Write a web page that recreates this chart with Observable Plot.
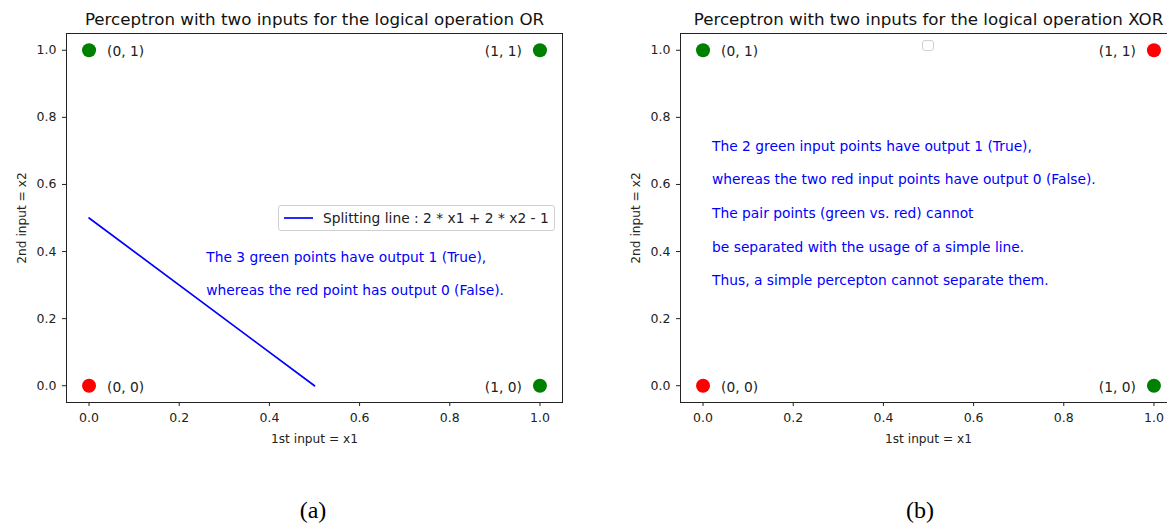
<!DOCTYPE html>
<html>
<head>
<meta charset="utf-8">
<script src="https://cdn.jsdelivr.net/npm/d3@7"></script>
<script src="https://cdn.jsdelivr.net/npm/@observablehq/plot@0.6"></script>
<style>
  html, body { margin: 0; padding: 0; background: #fff; }
  #wrap { position: relative; width: 1167px; height: 527px; overflow: hidden; background: #fff; font-family: "DejaVu Sans", sans-serif; }
  .panel { position: absolute; top: 0; }
  .caption { position: absolute; font-family: "Liberation Serif", "DejaVu Serif", serif; font-size: 24px; color: #000; transform: translateX(-50%); }
  .legend { position: absolute; box-sizing: border-box; border: 1px solid #d0d0d0; border-radius: 3px; background: rgba(255,255,255,0.85); font-family: "DejaVu Sans", sans-serif; font-size: 13.8px; color: #222; display: flex; align-items: center; }
</style>
</head>
<body>
<div id="wrap"></div>
<script>
// ---- data ----
const inputX1 = [0, 0, 1, 1];
const inputX2 = [0, 1, 0, 1];
const pointLabels = ["(0, 0)", "(0, 1)", "(1, 0)", "(1, 1)"];
const orColors = ["red", "green", "green", "green"];
const xorColors = ["red", "green", "green", "red"];
const splitX1 = [0, 0.5];
const splitX2 = [0.5, 0];
const tickValues = [0, 0.2, 0.4, 0.6, 0.8, 1.0];
const orTitle = "Perceptron with two inputs for the logical operation OR";
const xorTitle = "Perceptron with two inputs for the logical operation XOR";
const orNotes = ["The 3 green points have output 1 (True),", "whereas the red point has output 0 (False)."];
const orNotesX = 0.26;
const orNotesY = [0.37, 0.27];
const xorNotes = [
  "The 2 green input points have output 1 (True),",
  "whereas the two red input points have output 0 (False).",
  "The pair points (green vs. red) cannot",
  "be separated with the usage of a simple line.",
  "Thus, a simple percepton cannot separate them."
];
const xorNotesX = 0.02;
const xorNotesY = [0.7, 0.6, 0.5, 0.4, 0.3];
const legendLabel = "Splitting line : 2 * x1 + 2 * x2 - 1";

const FONT = "DejaVu Sans";
const TICK_FS = 12.5;
const LABEL_FS = 12.2;
const TEXT_FS = 13.8;
const TITLE_FS = 16.7;
const idx = d3.range(inputX1.length);

function panel({title, colors, extra, marginLeft}) {
  const leftIdx = idx.filter(i => inputX1[i] === 0);
  const rightIdx = idx.filter(i => inputX1[i] === 1);
  return Plot.plot({
    width: marginLeft + 496 + 20,
    height: 460,
    marginLeft,
    marginRight: 20,
    marginTop: 33,
    marginBottom: 58,
    style: {fontFamily: FONT, fontSize: TICK_FS + "px", color: "#222", background: "transparent", overflow: "visible"},
    x: {domain: [-0.05, 1.05]},
    y: {domain: [-0.05, 1.05]},
    color: {type: "identity"},
    marks: [
      Plot.axisX({ticks: tickValues, tickFormat: d3.format(".1f"), tickSize: 4, tickPadding: 7, fontSize: TICK_FS, label: null}),
      Plot.axisX({ticks: [], label: "1st input = x1", labelAnchor: "center", labelArrow: "none", labelOffset: 40, fontSize: LABEL_FS, tickSize: 0}),
      Plot.axisY({ticks: tickValues, tickFormat: d3.format(".1f"), tickSize: 4, tickPadding: 6, fontSize: TICK_FS, label: null}),
      Plot.axisY({ticks: [], label: "2nd input = x2", labelAnchor: "center", labelArrow: "none", labelOffset: 49, fontSize: LABEL_FS, tickSize: 0}),
      Plot.frame({stroke: "#222", strokeWidth: 1}),
      ...extra,
      Plot.dot(idx, {x: i => inputX1[i], y: i => inputX2[i], fill: i => colors[i], r: 7}),
      Plot.text(leftIdx, {x: i => inputX1[i], y: i => inputX2[i], text: i => pointLabels[i], textAnchor: "start", dx: 18, dy: 1.5, fill: "#222", fontSize: TEXT_FS}),
      Plot.text(rightIdx, {x: i => inputX1[i], y: i => inputX2[i], text: i => pointLabels[i], textAnchor: "end", dx: -18, dy: 1.5, fill: "#222", fontSize: TEXT_FS}),
      Plot.text([title], {frameAnchor: "top", dy: -14, lineAnchor: "middle", fontSize: TITLE_FS, fill: "#111"})
    ]
  });
}

const wrap = document.getElementById("wrap");

const orPlot = panel({
  title: orTitle, colors: orColors, marginLeft: 66,
  extra: [
    Plot.line(splitX1.map((v, i) => i), {x: i => splitX1[i], y: i => splitX2[i], stroke: "blue", strokeWidth: 1.7}),
    Plot.text(orNotes, {x: orNotesX, y: (d, i) => orNotesY[i], text: d => d, textAnchor: "start", lineAnchor: "bottom", fill: "blue", fontSize: TEXT_FS})
  ]
});
orPlot.classList.add("panel");
orPlot.style.left = "0px";
wrap.appendChild(orPlot);

const xorPlot = panel({
  title: xorTitle, colors: xorColors, marginLeft: 80,
  extra: [
    Plot.text(xorNotes, {x: xorNotesX, y: (d, i) => xorNotesY[i], text: d => d, textAnchor: "start", lineAnchor: "bottom", fill: "blue", fontSize: TEXT_FS})
  ]
});
xorPlot.classList.add("panel");
xorPlot.style.left = "600px";
wrap.appendChild(xorPlot);

// legend (a)
const leg = document.createElement("div");
leg.className = "legend";
Object.assign(leg.style, {left: "278px", top: "205px", width: "277px", height: "26px"});
leg.innerHTML = `<svg width="44" height="10" style="flex:none"><line x1="5" x2="34" y1="5" y2="5" stroke="blue" stroke-width="1.7"/></svg><span>${legendLabel}</span>`;
wrap.appendChild(leg);

// empty legend box (b)
const leg2 = document.createElement("div");
leg2.className = "legend";
Object.assign(leg2.style, {left: "922px", top: "40px", width: "12px", height: "11px"});
wrap.appendChild(leg2);

// captions
for (const [txt, cx] of [["(a)", 313], ["(b)", 920]]) {
  const c = document.createElement("div");
  c.className = "caption";
  c.textContent = txt;
  c.style.left = cx + "px";
  c.style.top = "497px";
  wrap.appendChild(c);
}
</script>
</body>
</html>
